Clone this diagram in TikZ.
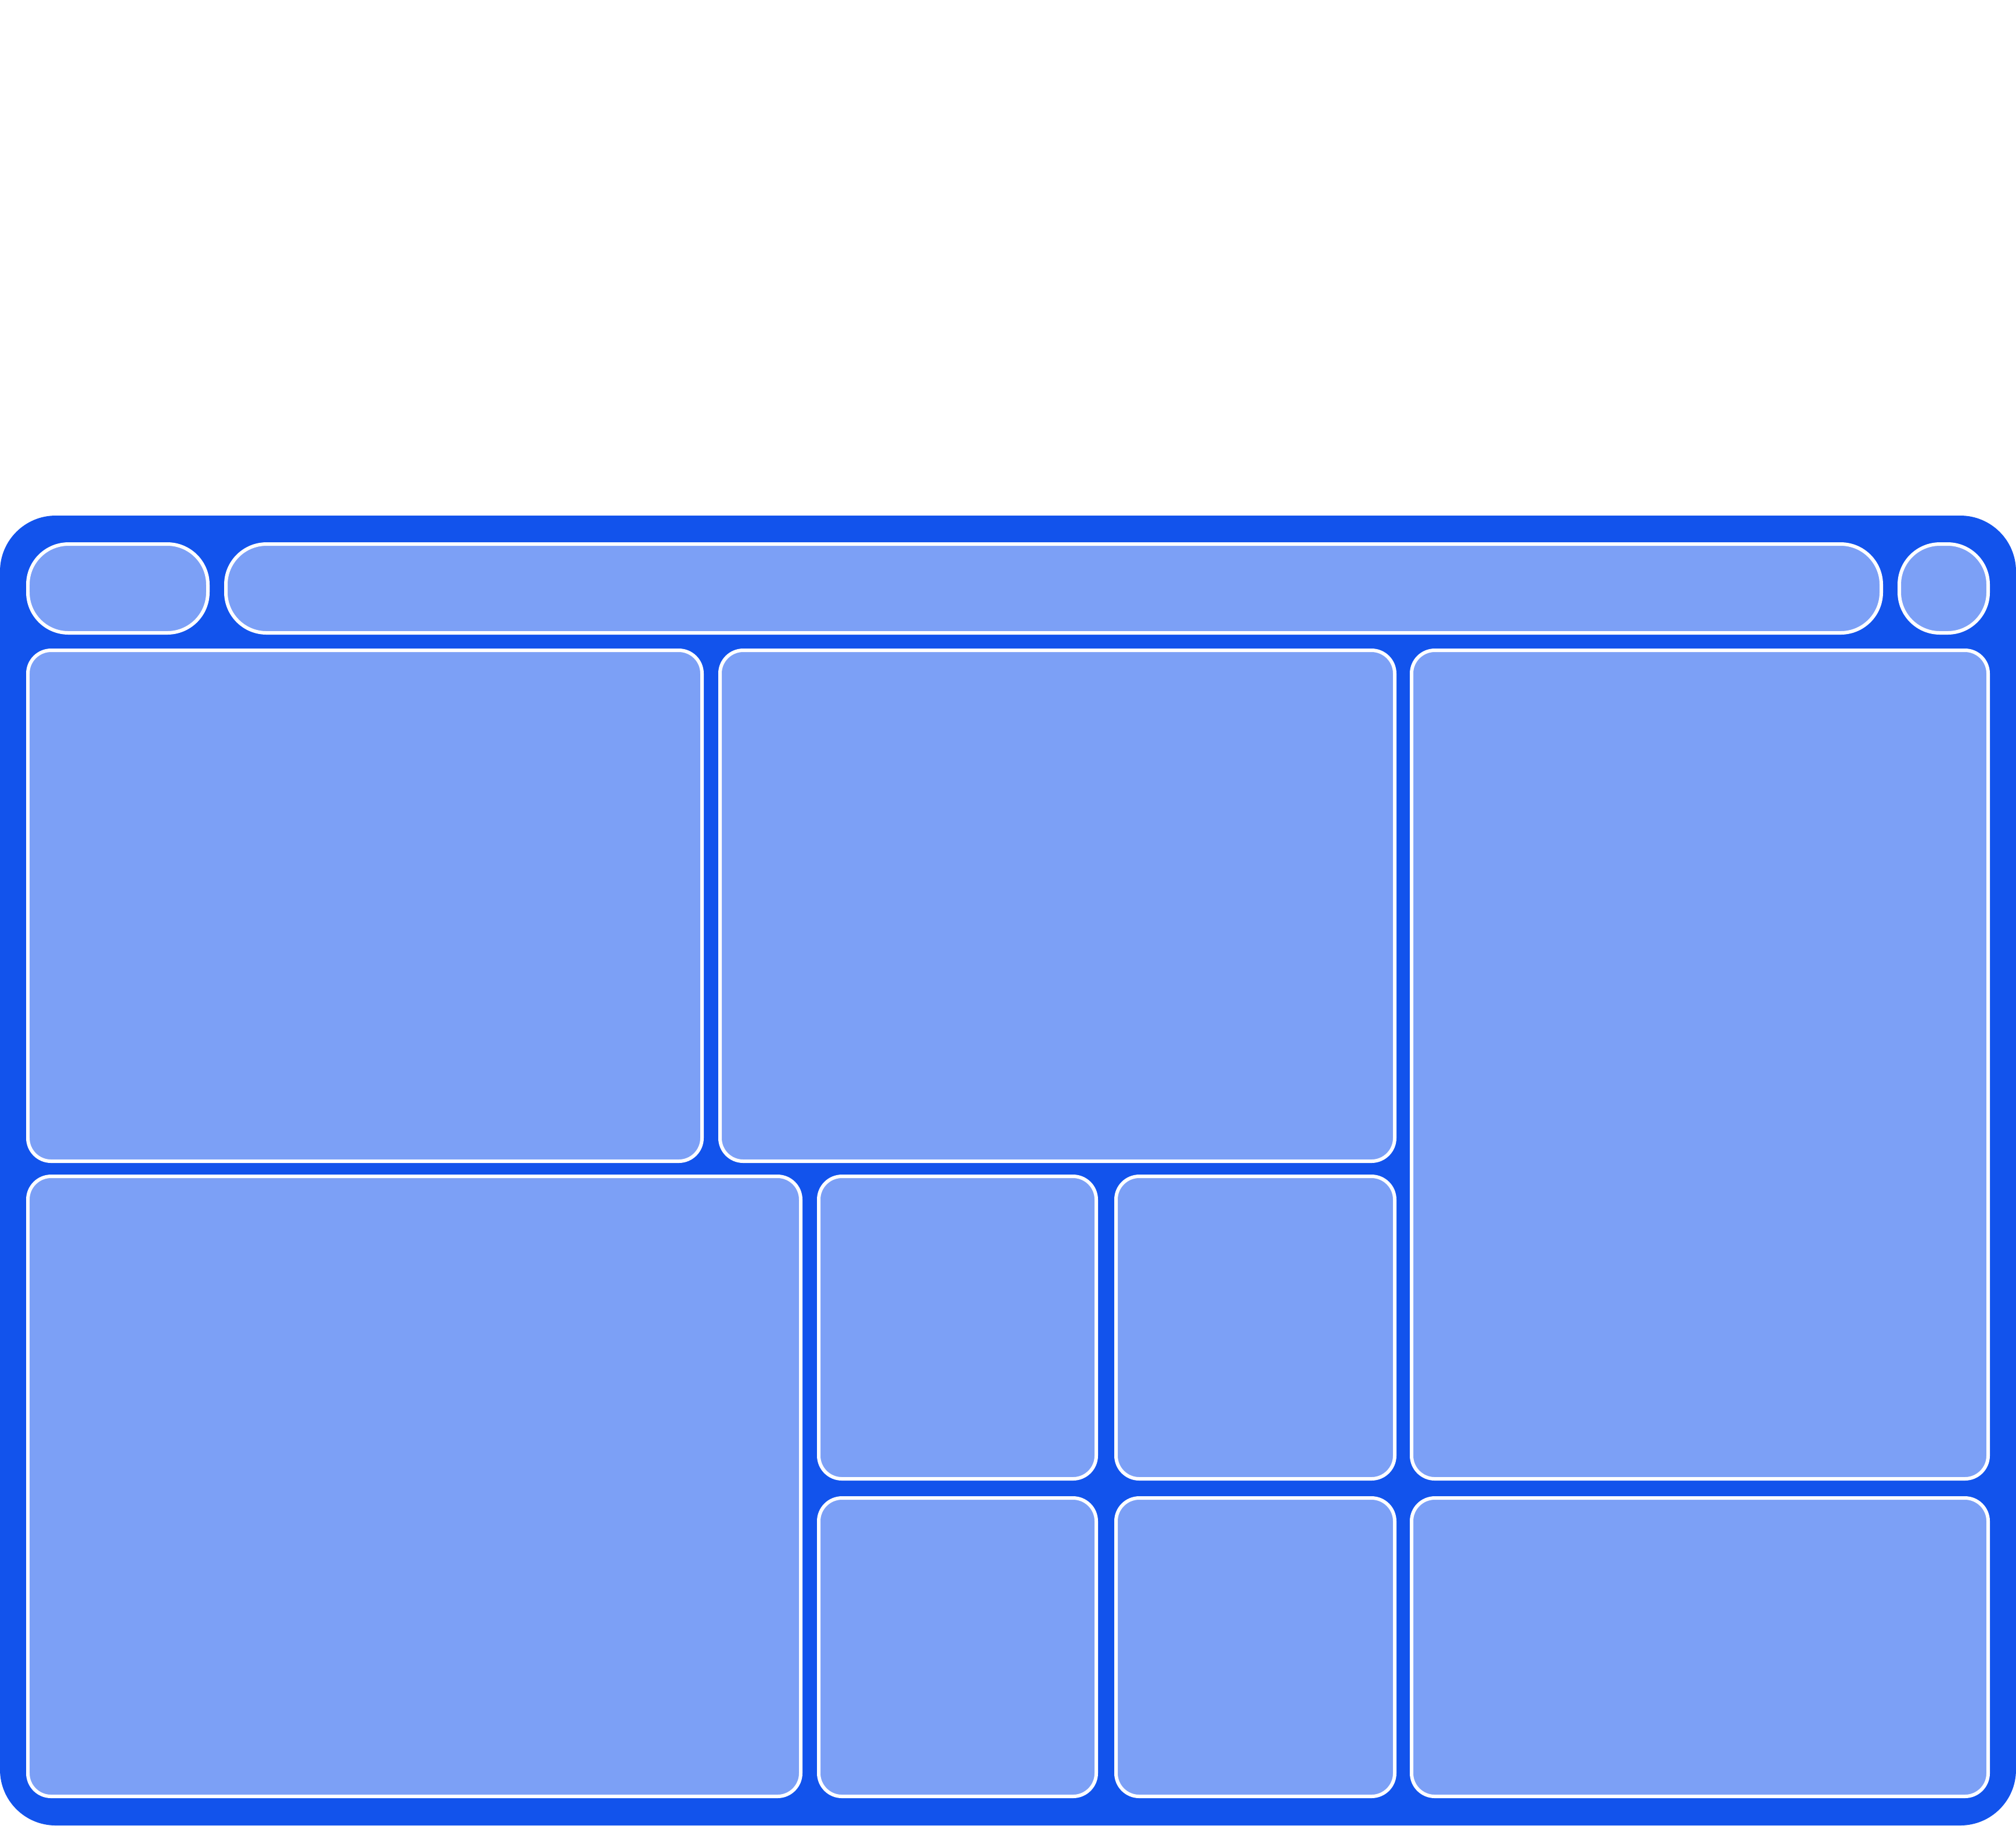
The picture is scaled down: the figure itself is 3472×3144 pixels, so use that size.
\documentclass[tikz,border=0pt]{standalone}
\usetikzlibrary{fit}
\definecolor{dashblue}{HTML}{1253EC}
\definecolor{tileblue}{HTML}{7CA0F6}
\tikzset{
  frame/.style={fill=dashblue, rounded corners=0.48cm},
  pillbox/.style={draw=white, line width=0.03cm, fill=tileblue, rounded corners=0.35cm,
                  inner sep=0pt},
  tilebox/.style={draw=white, line width=0.03cm, fill=tileblue, rounded corners=0.2cm,
                  inner sep=0pt}}
\begin{document}
\begin{tikzpicture}[x=0.005cm, y=-0.005cm]
    \fill[white] (0,0) rectangle (3472,3144);
    \useasboundingbox (0,0) rectangle (3472,3144);
    \fill[frame] (0,888) rectangle (3472,3144);
    % top bar
    \node[pillbox, fit={(48,937) (358,1090)}] (logo) {};
    \node[pillbox, fit={(389,937) (3240,1090)}] (search) {};
    \node[pillbox, fit={(3271,937) (3424,1090)}] (avatar) {};
    % middle row
    \node[tilebox, fit={(48,1120) (1209,2000)}] (chartA) {};
    \node[tilebox, fit={(1240,1120) (2402,2000)}] (chartB) {};
    \node[tilebox, fit={(2431,1120) (3424,2547)}] (side) {};
    % bottom row
    \node[tilebox, fit={(48,2026) (1379,3094)}] (table) {};
    \node[tilebox, fit={(1410,2026) (1888,2547)}] (kpiA) {};
    \node[tilebox, fit={(1922,2026) (2402,2547)}] (kpiB) {};
    \node[tilebox, fit={(1410,2580) (1888,3094)}] (kpiC) {};
    \node[tilebox, fit={(1922,2580) (2402,3094)}] (kpiD) {};
    \node[tilebox, fit={(2431,2580) (3424,3094)}] (footer) {};
  \end{tikzpicture}
\end{document}
